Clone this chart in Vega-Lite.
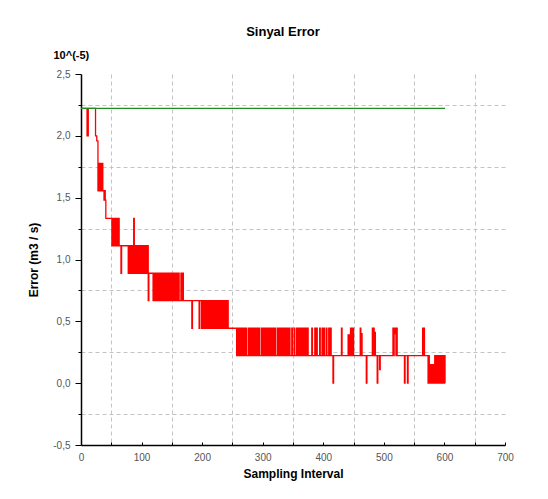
{
  "$schema": "https://vega.github.io/schema/vega-lite/v6.json",
  "width": 424,
  "height": 371,
  "autosize": {"type": "none"},
  "padding": {"left": 81, "top": 74, "right": 43, "bottom": 54},
  "background": "white",
  "title": {"text": "Sinyal Error", "anchor": "middle", "dx": -10, "offset": 10, "fontSize": 13, "fontWeight": "bold", "font": "Liberation Sans", "color": "#000"},
  "config": {"view": {"stroke": null}},
  "datasets": {
    "green": [{"t": 0, "e": 2.222}, {"t": 601, "e": 2.222}],
    "red": [
      {"t":0,"e":2.222},{"t":10,"e":2.0},{"t":12,"e":2.222},{"t":24,"e":2.0},{"t":26,"e":1.96},{"t":28,"e":1.556},
      {"t":29,"e":1.778},{"t":30,"e":1.556},{"t":31,"e":1.778},{"t":32,"e":1.556},{"t":33,"e":1.778},{"t":34,"e":1.556},{"t":35,"e":1.778},{"t":36,"e":1.556},
      {"t":38,"e":1.48},{"t":39,"e":1.556},{"t":40,"e":1.48},{"t":41,"e":1.333},
      {"t":51,"e":1.111},{"t":52,"e":1.333},{"t":53,"e":1.111},{"t":54,"e":1.333},{"t":55,"e":1.111},{"t":56,"e":1.333},{"t":57,"e":1.111},{"t":58,"e":1.333},{"t":59,"e":1.111},{"t":60,"e":1.333},{"t":61,"e":1.111},{"t":62,"e":1.333},{"t":63,"e":1.111},
      {"t":66,"e":0.889},{"t":67,"e":1.111},
      {"t":78,"e":0.889},{"t":79,"e":1.111},{"t":80,"e":0.889},{"t":81,"e":1.111},{"t":82,"e":0.889},{"t":83,"e":1.111},{"t":84,"e":0.889},{"t":85,"e":1.111},{"t":86,"e":0.889},{"t":87,"e":1.333},{"t":88,"e":1.111},{"t":89,"e":0.889},{"t":90,"e":1.111},{"t":92,"e":0.889},{"t":93,"e":1.111},{"t":95,"e":0.889},{"t":96,"e":1.111},
      {"t":97,"e":0.889},{"t":98,"e":1.111},{"t":99,"e":0.889},{"t":101,"e":1.111},{"t":102,"e":0.889},{"t":103,"e":1.111},{"t":104,"e":0.889},{"t":105,"e":1.111},{"t":107,"e":0.889},{"t":108,"e":1.111},{"t":109,"e":0.889},{"t":110,"e":1.111},
      {"t":111,"e":0.667},{"t":112,"e":0.889},
      {"t":119,"e":0.667},{"t":120,"e":0.889},{"t":121,"e":0.667},{"t":122,"e":0.889},{"t":123,"e":0.667},{"t":124,"e":0.889},{"t":125,"e":0.667},{"t":126,"e":0.889},{"t":127,"e":0.667},{"t":128,"e":0.889},{"t":129,"e":0.667},{"t":130,"e":0.889},{"t":131,"e":0.667},{"t":132,"e":0.889},{"t":133,"e":0.667},{"t":134,"e":0.889},{"t":135,"e":0.667},{"t":136,"e":0.889},{"t":137,"e":0.667},{"t":138,"e":0.889},{"t":139,"e":0.667},
      {"t":141,"e":0.889},{"t":142,"e":0.667},{"t":144,"e":0.889},{"t":145,"e":0.667},{"t":146,"e":0.889},{"t":147,"e":0.667},{"t":149,"e":0.889},{"t":150,"e":0.667},{"t":152,"e":0.889},{"t":153,"e":0.667},{"t":155,"e":0.889},{"t":156,"e":0.667},{"t":158,"e":0.889},{"t":159,"e":0.667},{"t":161,"e":0.889},{"t":162,"e":0.667},{"t":165,"e":0.889},{"t":166,"e":0.667},{"t":168,"e":0.889},{"t":169,"e":0.667},
      {"t":183,"e":0.444},{"t":184,"e":0.667},{"t":195,"e":0.444},{"t":196,"e":0.667},
      {"t":199,"e":0.444},{"t":200,"e":0.667},{"t":201,"e":0.444},{"t":203,"e":0.667},{"t":204,"e":0.444},{"t":206,"e":0.667},{"t":207,"e":0.444},{"t":209,"e":0.667},{"t":210,"e":0.444},{"t":212,"e":0.667},{"t":213,"e":0.444},{"t":214,"e":0.667},{"t":215,"e":0.444},{"t":216,"e":0.667},{"t":217,"e":0.444},{"t":218,"e":0.667},{"t":219,"e":0.444},{"t":220,"e":0.667},{"t":221,"e":0.444},{"t":222,"e":0.667},{"t":223,"e":0.444},{"t":224,"e":0.667},{"t":225,"e":0.444},{"t":226,"e":0.667},{"t":227,"e":0.444},{"t":228,"e":0.667},{"t":229,"e":0.444},{"t":230,"e":0.667},{"t":231,"e":0.444},{"t":232,"e":0.667},{"t":233,"e":0.444},{"t":234,"e":0.667},{"t":235,"e":0.444},{"t":236,"e":0.667},{"t":237,"e":0.444},{"t":238,"e":0.667},{"t":239,"e":0.444},{"t":240,"e":0.667},{"t":241,"e":0.444},{"t":242,"e":0.667},{"t":243,"e":0.444},
      {"t":257,"e":0.222},{"t":258,"e":0.444},{"t":260,"e":0.222},{"t":261,"e":0.444},{"t":263,"e":0.222},{"t":264,"e":0.444},{"t":266,"e":0.222},{"t":267,"e":0.444},{"t":269,"e":0.222},{"t":270,"e":0.444},{"t":271,"e":0.222},{"t":272,"e":0.444},{"t":273,"e":0.222},{"t":275,"e":0.222},{"t":276,"e":0.444},{"t":277,"e":0.222},{"t":278,"e":0.444},{"t":279,"e":0.222},{"t":280,"e":0.444},{"t":281,"e":0.222},{"t":282,"e":0.444},{"t":283,"e":0.222},{"t":284,"e":0.444},{"t":285,"e":0.222},{"t":286,"e":0.444},{"t":287,"e":0.222},{"t":288,"e":0.444},{"t":289,"e":0.222},{"t":290,"e":0.444},
      {"t":291,"e":0.222},{"t":292,"e":0.444},{"t":293,"e":0.222},{"t":294,"e":0.444},{"t":295,"e":0.222},{"t":297,"e":0.222},{"t":298,"e":0.444},{"t":299,"e":0.222},{"t":300,"e":0.444},{"t":301,"e":0.222},{"t":302,"e":0.444},{"t":303,"e":0.222},{"t":304,"e":0.444},{"t":305,"e":0.222},{"t":306,"e":0.444},{"t":307,"e":0.222},{"t":308,"e":0.444},{"t":309,"e":0.222},{"t":310,"e":0.444},{"t":311,"e":0.222},{"t":312,"e":0.444},{"t":313,"e":0.222},{"t":314,"e":0.444},{"t":315,"e":0.222},{"t":316,"e":0.444},{"t":317,"e":0.222},{"t":318,"e":0.444},{"t":319,"e":0.222},{"t":320,"e":0.444},
      {"t":321,"e":0.222},{"t":323,"e":0.222},{"t":324,"e":0.444},{"t":325,"e":0.222},{"t":326,"e":0.444},{"t":327,"e":0.222},{"t":328,"e":0.444},{"t":329,"e":0.222},{"t":330,"e":0.444},{"t":331,"e":0.222},{"t":332,"e":0.444},{"t":333,"e":0.222},{"t":334,"e":0.444},{"t":335,"e":0.222},{"t":336,"e":0.444},{"t":337,"e":0.222},{"t":338,"e":0.444},{"t":339,"e":0.222},{"t":340,"e":0.444},{"t":341,"e":0.222},{"t":342,"e":0.444},{"t":343,"e":0.222},{"t":344,"e":0.444},{"t":345,"e":0.222},{"t":347,"e":0.222},{"t":348,"e":0.444},{"t":349,"e":0.222},
      {"t":351,"e":0.222},{"t":352,"e":0.444},{"t":353,"e":0.222},{"t":355,"e":0.222},{"t":356,"e":0.444},{"t":357,"e":0.222},{"t":358,"e":0.444},{"t":359,"e":0.222},{"t":360,"e":0.444},{"t":361,"e":0.222},{"t":362,"e":0.444},{"t":363,"e":0.222},{"t":364,"e":0.444},{"t":365,"e":0.222},{"t":366,"e":0.444},{"t":367,"e":0.222},{"t":368,"e":0.444},{"t":369,"e":0.222},{"t":370,"e":0.444},{"t":371,"e":0.222},{"t":372,"e":0.444},{"t":373,"e":0.222},{"t":374,"e":0.444},{"t":375,"e":0.222},
      {"t":381,"e":0.444},{"t":382,"e":0.222},{"t":386,"e":0.444},{"t":387,"e":0.222},{"t":389,"e":0.444},{"t":390,"e":0.222},{"t":394,"e":0.444},{"t":395,"e":0.222},{"t":398,"e":0.444},{"t":399,"e":0.222},{"t":401,"e":0.444},{"t":402,"e":0.222},{"t":405,"e":0.444},{"t":406,"e":0.222},{"t":409,"e":0.444},{"t":410,"e":0.222},{"t":412,"e":0.444},{"t":413,"e":0.222},
      {"t":416,"e":0},{"t":417,"e":0.222},{"t":430,"e":0.444},{"t":431,"e":0.222},
      {"t":441,"e":0.39},{"t":442,"e":0.222},{"t":443,"e":0.39},{"t":444,"e":0.222},{"t":445,"e":0.444},{"t":446,"e":0.222},{"t":447,"e":0.444},{"t":448,"e":0.222},{"t":449,"e":0.444},{"t":450,"e":0.222},
      {"t":461,"e":0.444},{"t":462,"e":0.222},{"t":463,"e":0.4},{"t":464,"e":0.222},{"t":471,"e":0},{"t":472,"e":0.222},
      {"t":481,"e":0.444},{"t":482,"e":0.222},{"t":483,"e":0.444},{"t":484,"e":0.222},{"t":485,"e":0.41},{"t":486,"e":0.222},{"t":489,"e":0},{"t":490,"e":0.222},{"t":493,"e":0.11},{"t":494,"e":0.222},
      {"t":515,"e":0.444},{"t":516,"e":0.222},{"t":517,"e":0.444},{"t":518,"e":0.4},{"t":519,"e":0.444},{"t":520,"e":0.222},{"t":521,"e":0.444},{"t":522,"e":0.222},
      {"t":534,"e":0},{"t":535,"e":0.222},{"t":539,"e":0},{"t":540,"e":0.222},
      {"t":564,"e":0.444},{"t":565,"e":0.222},{"t":566,"e":0.444},{"t":567,"e":0.222},
      {"t":573,"e":0},{"t":574,"e":0.222},{"t":575,"e":0},{"t":576,"e":0.15},{"t":577,"e":0},{"t":578,"e":0.15},{"t":579,"e":0},{"t":580,"e":0.15},{"t":581,"e":0},{"t":582,"e":0.15},{"t":583,"e":0},{"t":584,"e":0.222},{"t":585,"e":0},{"t":586,"e":0.222},{"t":587,"e":0},{"t":588,"e":0.222},{"t":589,"e":0},{"t":590,"e":0.222},{"t":591,"e":0},{"t":592,"e":0.222},{"t":593,"e":0},{"t":594,"e":0.222},{"t":595,"e":0},{"t":596,"e":0.222},{"t":597,"e":0},{"t":598,"e":0.222},{"t":599,"e":0},{"t":600,"e":0.222},{"t":601,"e":0}
    ]
  },
  "layer": [
    {
      "data": {"name": "red"},
      "mark": {"type": "line", "color": "#ff0000", "strokeWidth": 1.3, "interpolate": "step-after"},
      "encoding": {
        "x": {
          "field": "t", "type": "quantitative",
          "scale": {"domain": [0, 700], "nice": false, "zero": false},
          "axis": {
            "orient": "bottom",
            "values": [0, 50, 100, 150, 200, 250, 300, 350, 400, 450, 500, 550, 600, 650, 700],
            "labelExpr": "datum.value % 100 === 0 ? datum.label : ''",
            "format": "d",
            "labelFlush": false, "labelOverlap": false, "labelBound": false,
            "grid": true,
            "gridColor": {"condition": {"test": "datum.value % 100 === 50", "value": "#c4c4c4"}, "value": "transparent"},
            "gridDash": [4, 3], "gridWidth": 1,
            "tickSize": -3, "tickColor": "#000", "tickWidth": 1,
            "domainColor": "#000", "domainWidth": 1.5,
            "labelColor": "#555", "labelFontSize": 10, "labelFont": "Liberation Sans", "labelPadding": 10,
            "title": "Sampling Interval", "titleFont": "Liberation Sans", "titleFontSize": 12, "titleFontWeight": "bold", "titleColor": "#000",
            "titleX": 212, "titleY": 28, "titleBaseline": "middle", "titleAlign": "center"
          }
        },
        "y": {
          "field": "e", "type": "quantitative",
          "scale": {"domain": [-0.5, 2.5], "nice": false, "zero": false},
          "axis": {
            "orient": "left",
            "values": [-0.5, -0.25, 0, 0.25, 0.5, 0.75, 1, 1.25, 1.5, 1.75, 2, 2.25, 2.5],
            "labelExpr": "abs(datum.value*2 - round(datum.value*2)) < 0.01 ? replace(replace(format(datum.value, '.1f'), '.', ','), '\u2212', '-') : ''",
            "labelFlush": false, "labelOverlap": false, "labelBound": false,
            "grid": true,
            "gridColor": {"condition": {"test": "abs(datum.value*2 - round(datum.value*2)) > 0.1", "value": "#c4c4c4"}, "value": "transparent"},
            "gridDash": [4, 3], "gridWidth": 1,
            "tickSize": {"condition": {"test": "abs(datum.value*2 - round(datum.value*2)) < 0.01", "value": 6}, "value": 3},
            "tickColor": "#000", "tickWidth": 1,
            "domainColor": "#000", "domainWidth": 1.5,
            "labelColor": "#555", "labelFontSize": 10, "labelFont": "Liberation Sans", "labelPadding": 5,
            "title": "Error (m3 / s)", "titleFont": "Liberation Sans", "titleFontSize": 12, "titleFontWeight": "bold", "titleColor": "#000",
            "titleX": -48, "titleY": 185.5, "titleAngle": 270, "titleBaseline": "middle", "titleAlign": "center"
          }
        }
      }
    },
    {
      "data": {"name": "green"},
      "mark": {"type": "line", "color": "#228b22", "strokeWidth": 1.4},
      "encoding": {
        "x": {
          "field": "t", "type": "quantitative",
          "scale": {"domain": [0, 700], "nice": false, "zero": false},
          "axis": {
            "orient": "top", "domain": false, "ticks": false, "labels": false, "grid": false,
            "title": "10^(-5)", "titleFont": "Liberation Sans", "titleFontSize": 11, "titleFontWeight": "bold", "titleColor": "#000",
            "titleX": -28, "titleY": -19, "titleAlign": "left", "titleBaseline": "middle", "titleAngle": 0
          }
        },
        "y": {
          "field": "e", "type": "quantitative",
          "scale": {"domain": [-0.5, 2.5], "nice": false, "zero": false},
          "axis": {
            "orient": "left",
            "values": [-0.5, -0.25, 0, 0.25, 0.5, 0.75, 1, 1.25, 1.5, 1.75, 2, 2.25, 2.5],
            "labelExpr": "abs(datum.value*2 - round(datum.value*2)) < 0.01 ? replace(replace(format(datum.value, '.1f'), '.', ','), '\u2212', '-') : ''",
            "labelFlush": false, "labelOverlap": false, "labelBound": false,
            "grid": true,
            "gridColor": {"condition": {"test": "abs(datum.value*2 - round(datum.value*2)) > 0.1", "value": "#c4c4c4"}, "value": "transparent"},
            "gridDash": [4, 3], "gridWidth": 1,
            "tickSize": {"condition": {"test": "abs(datum.value*2 - round(datum.value*2)) < 0.01", "value": 6}, "value": 3},
            "tickColor": "#000", "tickWidth": 1,
            "domainColor": "#000", "domainWidth": 1.5,
            "labelColor": "#555", "labelFontSize": 10, "labelFont": "Liberation Sans", "labelPadding": 5,
            "title": "Error (m3 / s)", "titleFont": "Liberation Sans", "titleFontSize": 12, "titleFontWeight": "bold", "titleColor": "#000",
            "titleX": -48, "titleY": 185.5, "titleAngle": 270, "titleBaseline": "middle", "titleAlign": "center"
          }
        }
      }
    }
  ],
  "resolve": {"axis": {"x": "independent"}}
}
